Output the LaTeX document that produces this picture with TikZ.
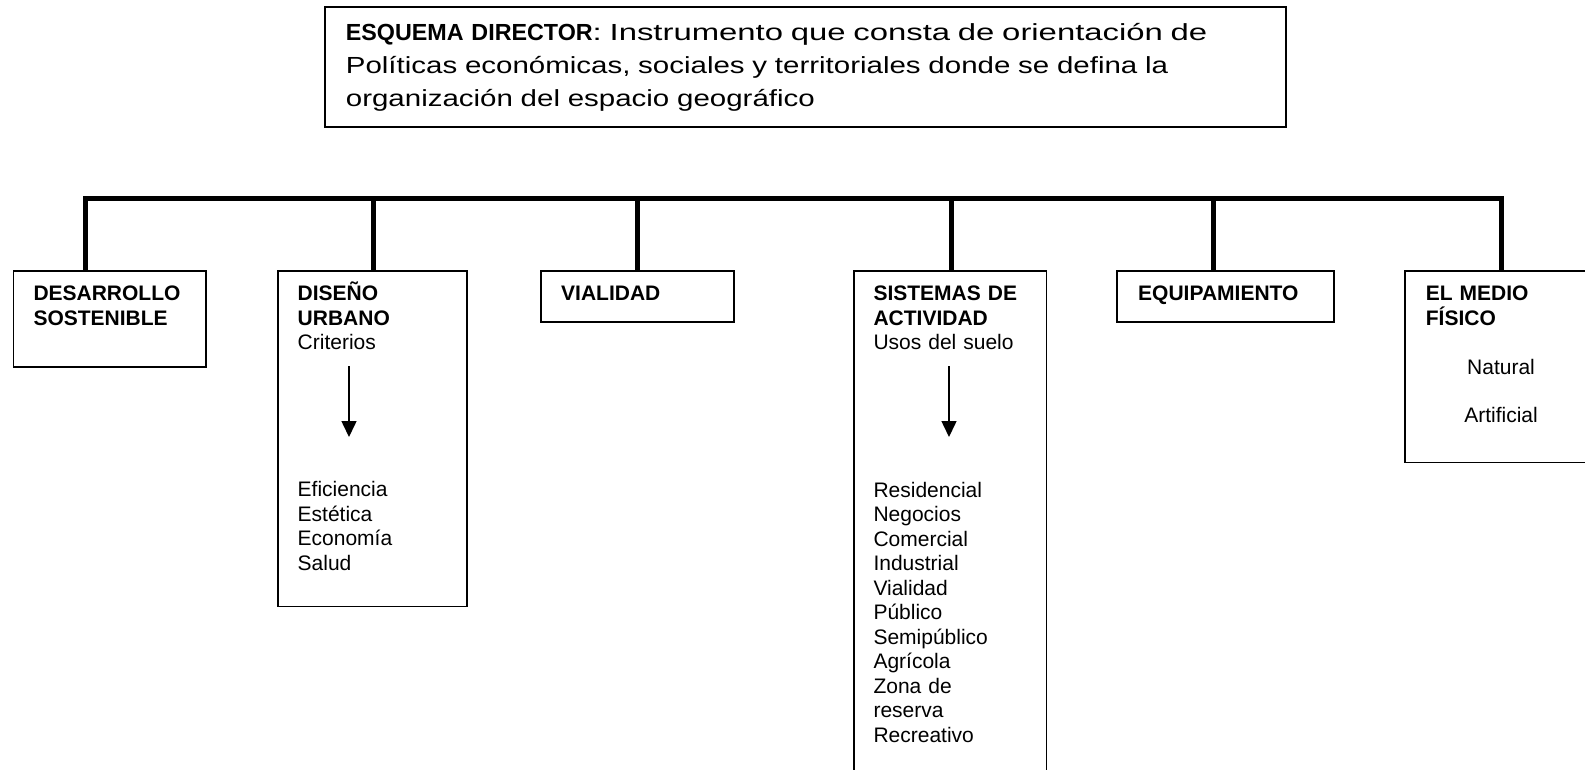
\documentclass[tikz,border=0pt]{standalone}
\usepackage{fontspec}
\setmainfont{Liberation Sans}
\newfontfamily\anchafont[FakeStretch=1.265]{Liberation Sans}
\newfontfamily\anchaunofont[FakeStretch=1.41]{Liberation Sans}
\usepackage{tikz}
\usetikzlibrary{arrows.meta, positioning, calc}
\tikzset{
  caja/.style={
      rectangle, draw,
      line width=1.6pt,
      anchor=north west,
      inner sep=0pt,
    },
  texto_caja/.style={
      anchor=base west,
      inner sep=0pt,
      text width=#1,
      align=left,
      font=\fontsize{21}{24.3}\selectfont,
    },
  texto_caja/.default=170pt,
  texto_lista/.style={
      texto_caja,
      font=\fontsize{21}{24.5}\selectfont,
    },
  texto_grande/.style={
      anchor=base west,
      inner sep=0pt,
      text width=925pt,
      align=left,
      font=\fontsize{23.3}{33}\selectfont,
    },
  conector/.style={
      line width=5pt,
      line join=miter,
    },
  flecha/.style={
      line width=1.5pt,
      -{Triangle[width=15pt,length=16pt]},
    },
}

\begin{document}
\begin{tikzpicture}[x=1pt, y=-1pt]
      \useasboundingbox (0,0) rectangle (1585,769);
      \clip (0,0) rectangle (1585,769);
      \node[caja, minimum width=960.7pt, minimum height=120pt] (esquema) at (324.3,6) {};
      \node[texto_grande] (esquema_txt) at ($(esquema.north west)+(21.4,34.7)$) {\textbf{ESQUEMA DIRECTOR}{\anchaunofont: Instrumento que consta de orientación de}\\{\anchafont Políticas económicas, sociales y territoriales donde se defina la}\\{\anchafont organización del espacio geográfico}};
      \node[caja, minimum width=192.3pt, minimum height=96pt] (desarrollo) at (12.7,270) {};
      \node[caja, minimum width=189pt, minimum height=335.5pt] (diseno) at (277.3,270) {};
      \node[caja, minimum width=193pt, minimum height=51pt] (vialidad) at (540,270) {};
      \node[caja, minimum width=192.5pt, minimum height=530pt] (sistemas) at (853,270) {};
      \node[caja, minimum width=217pt, minimum height=51pt] (equipamiento) at (1116,270) {};
      \node[caja, minimum width=200pt, minimum height=191.7pt] (medio) at (1404.3,270) {};
      \node[texto_caja] (desarrollo_txt) at ($(desarrollo.north west)+(20.6,30.7)$) {\textbf{DESARROLLO}\\\textbf{SOSTENIBLE}};
      \node[texto_caja] (diseno_txt) at ($(diseno.north west)+(20.2,30.7)$) {\textbf{DISEÑO}\\\textbf{URBANO}\\Criterios};
      \node[texto_lista] (diseno_lista) at ($(diseno.north west)+(20.2,226.7)$) {Eficiencia\\Estética\\Economía\\Salud};
      \node[texto_caja] (vialidad_txt) at ($(vialidad.north west)+(21,30.7)$) {\textbf{VIALIDAD}};
      \node[texto_caja] (sistemas_txt) at ($(sistemas.north west)+(20.3,30.7)$) {\textbf{SISTEMAS DE}\\\textbf{ACTIVIDAD}\\Usos del suelo};
      \node[texto_lista] (sistemas_lista) at ($(sistemas.north west)+(20.3,227.3)$) {Residencial\\Negocios\\Comercial\\Industrial\\Vialidad\\Público\\Semipúblico\\Agrícola\\Zona de\\reserva\\Recreativo};
      \node[texto_caja] (equipamiento_txt) at ($(equipamiento.north west)+(22,30.7)$) {\textbf{EQUIPAMIENTO}};
      \node[texto_caja] (medio_txt) at ($(medio.north west)+(21.4,30.7)$) {\textbf{EL MEDIO}\\\textbf{FÍSICO}};
      \node[texto_caja=120pt, anchor=base, align=center] (medio_lista) at (1501,374) {Natural\\[24.4pt]Artificial};
      \coordinate (r1) at (85.3,198.5);
      \coordinate (r2) at (373.5,198.5);
      \coordinate (r3) at (637.5,198.5);
      \coordinate (r4) at (951,198.5);
      \coordinate (r5) at (1213,198.5);
      \coordinate (r6) at (1501.7,198.5);
      \draw[conector] (r1 |- desarrollo.north) -- (r1) -- (r6) -- (r6 |- medio.north);
      \draw[conector] (r2) -- (r2 |- diseno.north);
      \draw[conector] (r3) -- (r3 |- vialidad.north);
      \draw[conector] (r4) -- (r4 |- sistemas.north);
      \draw[conector] (r5) -- (r5 |- equipamiento.north);
      \coordinate (diseno_a) at ($(diseno.north west)+(71.7,96)$);
      \coordinate (diseno_b) at ($(diseno.north west)+(71.7,167)$);
      \coordinate (sistemas_a) at ($(sistemas.north west)+(96,96)$);
      \coordinate (sistemas_b) at ($(sistemas.north west)+(96,167)$);
      \draw[flecha] (diseno_a) -- (diseno_b);
      \draw[flecha] (sistemas_a) -- (sistemas_b);
    \end{tikzpicture}
\end{document}
